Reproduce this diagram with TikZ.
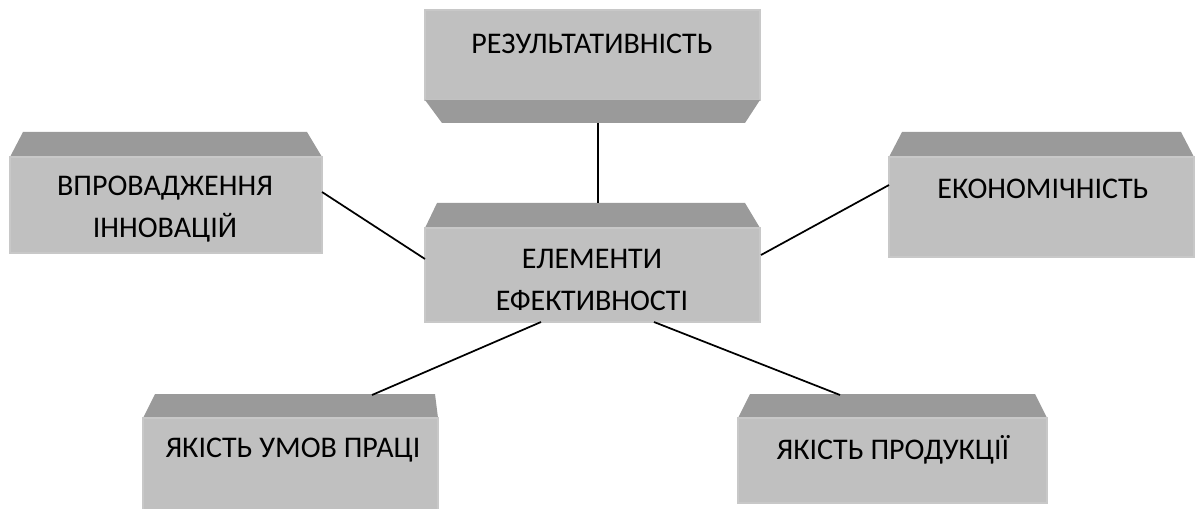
\documentclass[tikz,border=0pt]{standalone}
\usepackage{fontspec}
\setmainfont{Carlito}
\definecolor{boxface}{HTML}{C0C0C0}
\definecolor{boxbevel}{HTML}{9A9A9A}
\definecolor{boxedge}{HTML}{C8C8C8}
\tikzset{
  face/.style={fill=boxface, draw=boxedge, line width=0.8pt},
  bevel/.style={fill=boxbevel, draw=none},
  lbl/.style={font=\fontsize{22.5}{31}\selectfont, align=center, inner sep=0pt},
  link/.style={draw=black, line width=1.3pt},
}
\begin{document}
\begin{tikzpicture}[x=0.75pt,y=-0.75pt]
\useasboundingbox (0,0) rectangle (1195,509);
% top box
\fill[face] (425,10) rectangle (760,100);
\fill[bevel] (425,100) -- (760,100) -- (745,123) -- (442,123) -- cycle;
\node[lbl] (top) at (592,44) {РЕЗУЛЬТАТИВНІСТЬ};
\coordinate (topb) at (598,123);
% centre box
\fill[bevel] (437,203) -- (745,203) -- (760,228) -- (425,228) -- cycle;
\fill[face] (425,228) rectangle (760,322);
\node[lbl] (ctr) at (592,280) {ЕЛЕМЕНТИ\\ЕФЕКТИВНОСТІ};
\coordinate (ctrt) at (598,203);
\coordinate (ctrl) at (425,259);
\coordinate (ctrr) at (761,255);
\coordinate (ctrbl) at (541,322);
\coordinate (ctrbr) at (654,322);
% left box
\fill[bevel] (23,132) -- (307,132) -- (322,157) -- (10,157) -- cycle;
\fill[face] (10,157) rectangle (322,253);
\node[lbl] (lft) at (165,209) {ВПРОВАДЖЕННЯ\\ІННОВАЦІЙ};
\coordinate (lftr) at (322,192);
% right box
\fill[bevel] (902,132) -- (1181,132) -- (1194,157) -- (889,157) -- cycle;
\fill[face] (889,157) rectangle (1194,257);
\node[lbl] (rgt) at (1043,189) {ЕКОНОМІЧНІСТЬ};
\coordinate (rgtl) at (889,185);
% bottom-left box
\fill[bevel] (155,394) -- (435,394) -- (438,418) -- (143,418) -- cycle;
\fill[face] (143,418) rectangle (438,512);
\node[lbl] (bl) at (293,450) {ЯКІСТЬ УМОВ ПРАЦІ};
\coordinate (blt) at (372,395);
% bottom-right box
\fill[bevel] (750,394) -- (1035,394) -- (1047,418) -- (738,418) -- cycle;
\fill[face] (738,418) rectangle (1047,503);
\node[lbl] (br) at (893,450) {ЯКІСТЬ ПРОДУКЦІЇ};
\coordinate (brt) at (840,395);
% connectors
\draw[link] (topb) -- (ctrt);
\draw[link] (lftr) -- (ctrl);
\draw[link] (ctrr) -- (rgtl);
\draw[link] (ctrbl) -- (blt);
\draw[link] (ctrbr) -- (brt);
\end{tikzpicture}
\end{document}
